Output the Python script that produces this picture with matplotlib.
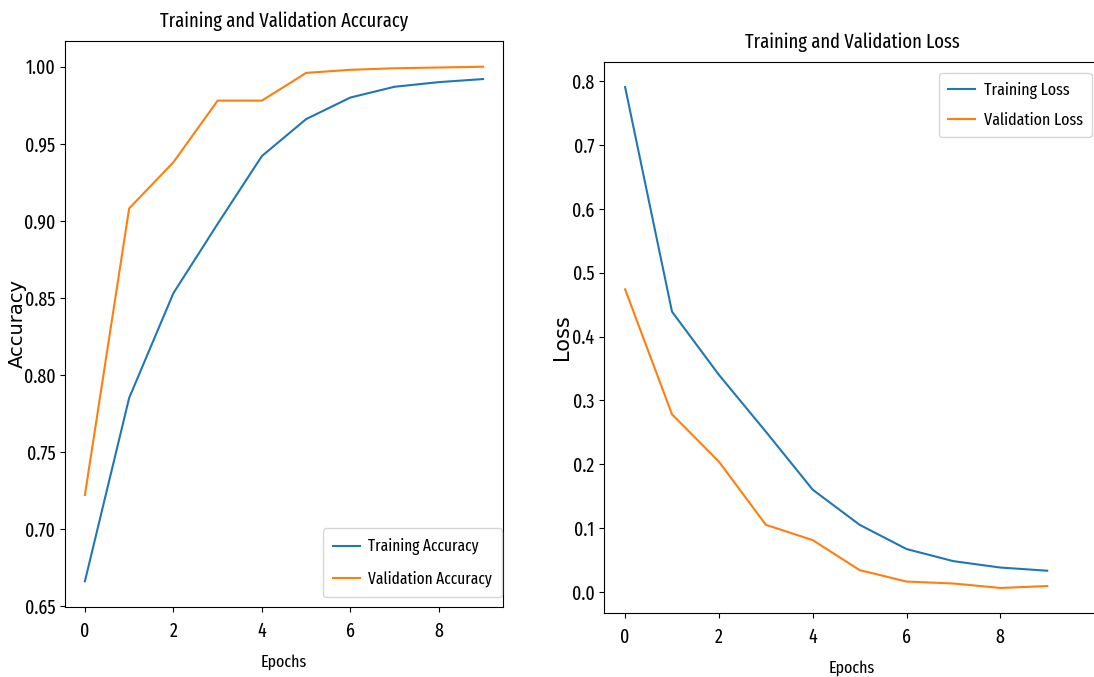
import matplotlib
matplotlib.use('Agg')
import matplotlib.pyplot as plt

epochs = list(range(10))
train_acc = [0.666, 0.785, 0.853, 0.898, 0.942, 0.966, 0.980, 0.987, 0.990, 0.992]
val_acc = [0.722, 0.908, 0.938, 0.978, 0.978, 0.996, 0.998, 0.999, 0.9995, 1.000]
train_loss = [0.791, 0.439, 0.340, 0.251, 0.160, 0.105, 0.067, 0.048, 0.038, 0.033]
val_loss = [0.474, 0.278, 0.204, 0.105, 0.081, 0.034, 0.016, 0.013, 0.006, 0.009]

plt.rcParams['font.family'] = ['Fira Sans Extra Condensed', 'DejaVu Sans']
plt.rcParams['font.size'] = 14

W, H = 1094, 677
fig = plt.figure(figsize=(W / 100, H / 100), dpi=100)

# left panel: accuracy
ax1 = fig.add_axes([65 / W, 1 - 607 / H, 438 / W, 566 / H])
ax1.plot(epochs, train_acc, label='Training Accuracy')
ax1.plot(epochs, val_acc, label='Validation Accuracy')
ax1.set_title('Training and Validation Accuracy', fontsize=14.5, pad=10)
ax1.set_xlabel('Epochs', fontsize=12.5, labelpad=9)
# rotated labels were not squeezed sideways, so use a normal width font
ax1.set_ylabel('Accuracy', fontsize=14, family='DejaVu Sans', labelpad=-2)
ax1.set_xticks([0, 2, 4, 6, 8])
ax1.legend(loc='lower right', bbox_to_anchor=(502 / W, 1 - 597 / H),
           bbox_transform=fig.transFigure, borderaxespad=0, fontsize=12,
           handlelength=1.6, handletextpad=0.5, labelspacing=0.9, borderpad=0.6)

# right panel: loss (cut off at the right edge in the reference)
ax2 = fig.add_axes([604 / W, 1 - 613 / H, 496 / W, 551 / H])
ax2.plot(epochs, train_loss, label='Training Loss')
ax2.plot(epochs, val_loss, label='Validation Loss')
ax2.set_xlim(-0.45, -0.45 + 496 / 46.9)
ax2.set_title('Training and Validation Loss', fontsize=14.5, pad=10)
ax2.set_xlabel('Epochs', fontsize=12.5, labelpad=9)
ax2.set_ylabel('Loss', fontsize=15, family='DejaVu Sans', labelpad=0)
ax2.set_xticks([0, 2, 4, 6, 8])
ax2.legend(loc='upper left', bbox_to_anchor=(939 / W, 1 - 73 / H),
           bbox_transform=fig.transFigure, borderaxespad=0, fontsize=12.5,
           handlelength=1.6, handletextpad=0.5, labelspacing=0.8, borderpad=0.5)

for ax in (ax1, ax2):
    ax.tick_params(labelsize=14)
    ax.tick_params(axis='x', pad=7)

fig.savefig('out.png')
